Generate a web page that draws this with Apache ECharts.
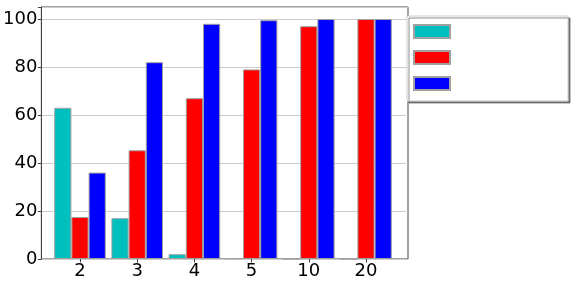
<!DOCTYPE html>
<html><head><meta charset="utf-8">
<script src="https://cdn.jsdelivr.net/npm/echarts@6/dist/echarts.min.js"></script>
<style>html,body{margin:0;padding:0;background:#fff}#c{width:575px;height:281px}</style>
</head><body><div id="c"></div>
<script>
const categories = ['2', '3', '4', '5', '10', '20'];
const seriesNames = ['A', 'B', 'C'];
const cyanValues = [63, 17, 2, 0.3, 0, 0];
const redValues = [17.5, 45.3, 67, 79, 97, 100];
const blueValues = [36, 82, 98, 99.5, 100, 100];
const yTicks = [0, 20, 40, 60, 80, 100];
const colors = ['#00bfbf', '#ff0000', '#0000ff'];

const font = 'DejaVu Sans';
const chart = echarts.init(document.getElementById('c'), null, {renderer: 'canvas'});
const mk = (name, data, color) => ({
  name, type: 'bar', data, xAxisIndex: 1, yAxisIndex: 1,
  barWidth: 17.2, barGap: '0%',
  itemStyle: {color, borderColor: '#a0a0a0', borderWidth: 1}
});
chart.setOption({
  animation: false,
  grid: [
    {left: 38, right: 167, top: 7, bottom: 22, show: true, borderColor: '#444', borderWidth: 1, backgroundColor: 'transparent'},
    {left: 51.4, right: 180.4, top: 7, bottom: 22}
  ],
  xAxis: [
    {gridIndex: 0, type: 'category', data: categories, show: false},
    {gridIndex: 1, type: 'category', data: categories,
     axisLine: {show: false},
     axisTick: {show: true, alignWithLabel: true, length: 3.5, lineStyle: {color: '#444'}},
     axisLabel: {fontFamily: font, fontSize: 18, color: '#000', margin: 3}}
  ],
  yAxis: [
    {gridIndex: 0, type: 'value', min: 0, max: 105, interval: 20,
     axisLine: {show: true, lineStyle: {color: '#444'}},
     axisTick: {show: true, length: 3.5, lineStyle: {color: '#444'}},
     splitLine: {show: true, lineStyle: {color: '#cccccc', width: 1}},
     axisLabel: {fontFamily: font, fontSize: 18, color: '#000', margin: 4,
       formatter: v => (yTicks.includes(v) ? String(v) : '')}},
    {gridIndex: 1, type: 'value', min: 0, max: 105, show: false, splitLine: {show: false}}
  ],
  legend: {
    left: 407, top: 16, orient: 'vertical', icon: 'rect',
    itemWidth: 36, itemHeight: 13, itemGap: 11,
    padding: [8, 113, 10, 6],
    backgroundColor: '#fff', borderColor: '#cccccc', borderWidth: 1,
    shadowColor: 'rgba(0,0,0,0.45)', shadowOffsetX: 2, shadowOffsetY: 2, shadowBlur: 0,
    formatter: () => '',
    textStyle: {fontSize: 1, lineHeight: 1},
    data: seriesNames
  },
  series: [
    mk(seriesNames[0], cyanValues, colors[0]),
    mk(seriesNames[1], redValues, colors[1]),
    mk(seriesNames[2], blueValues, colors[2])
  ]
});
</script></body></html>
